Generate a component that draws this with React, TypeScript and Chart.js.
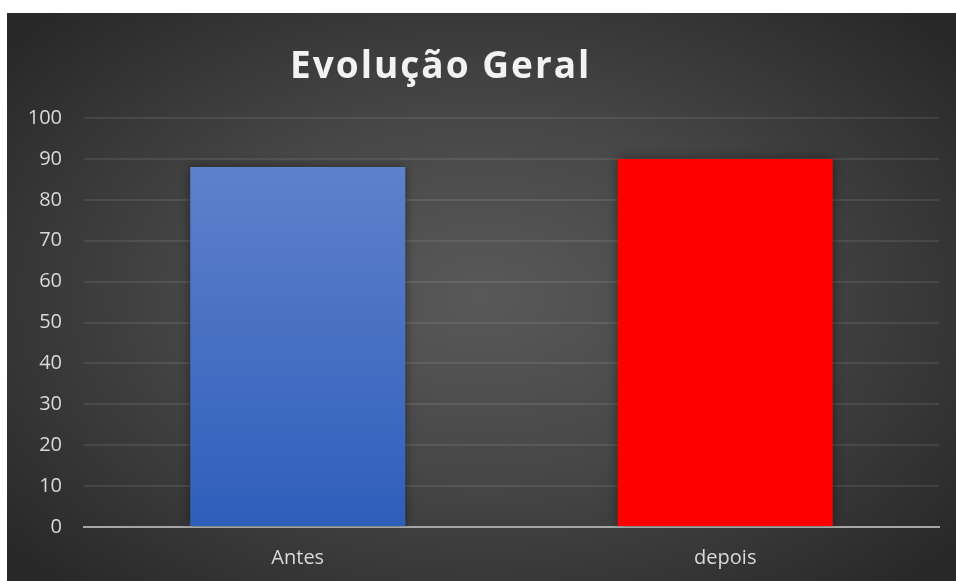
import React, { useEffect, useRef } from "react";
import { Chart, registerables } from "chart.js";

Chart.register(...registerables);

const titleText = "Evolução Geral";
const categories = ["Antes", "depois"];
const values = [88, 90];
const yTicks = [0, 10, 20, 30, 40, 50, 60, 70, 80, 90, 100];

const FONT = "'Open Sans', 'DejaVu Sans', sans-serif";

export default function App() {
  const ref = useRef<HTMLCanvasElement | null>(null);

  useEffect(() => {
    const canvas = ref.current;
    if (!canvas) return;

    const titlePlugin = {
      id: "customTitle",
      afterDraw(chart: any) {
        const ctx = chart.ctx;
        ctx.save();
        ctx.font = `bold 37px ${FONT}`;
        (ctx as any).letterSpacing = "2px";
        ctx.fillStyle = "#f2f2f2";
        ctx.textAlign = "center";
        ctx.textBaseline = "alphabetic";
        ctx.fillText(titleText, chart.width * 0.457, 65);
        ctx.restore();
      },
    };

    const shadowPlugin = {
      id: "barShadow",
      beforeDatasetsDraw(chart: any) {
        const ctx = chart.ctx;
        ctx.save();
        ctx.shadowColor = "rgba(0,0,0,0.45)";
        ctx.shadowBlur = 10;
        ctx.shadowOffsetX = 0;
        ctx.shadowOffsetY = 0;
      },
      afterDatasetsDraw(chart: any) {
        chart.ctx.restore();
      },
    };

    const chart = new Chart(canvas, {
      type: "bar",
      data: {
        labels: categories,
        datasets: [
          {
            data: values,
            backgroundColor: (c: any) => {
              if (c.dataIndex === 1) return "#ff0000";
              const area = c.chart.chartArea;
              if (!area) return "#4472c4";
              const g = c.chart.ctx.createLinearGradient(0, area.top, 0, area.bottom);
              g.addColorStop(0, "#6586cd");
              g.addColorStop(1, "#2e5ebb");
              return g;
            },
            borderWidth: 0,
            barPercentage: 0.503,
            categoryPercentage: 1,
          },
        ],
      },
      options: {
        animation: false,
        responsive: false,
        maintainAspectRatio: false,
        layout: { padding: { left: 0, right: 17, top: 105, bottom: 0 } },
        plugins: {
          legend: { display: false },
          title: { display: false },
          tooltip: { enabled: false },
        },
        scales: {
          x: {
            grid: { display: false, drawTicks: false },
            border: { display: true, color: "#a6a6a6", width: 2 },
            ticks: {
              color: "#d9d9d9",
              font: { family: FONT, size: 20 },
              padding: 19,
            },
            afterFit(scale: any) {
              scale.height = 54;
            },
          },
          y: {
            min: 0,
            max: 100,
            afterBuildTicks(scale: any) {
              scale.ticks = yTicks.map((v) => ({ value: v }));
            },
            grid: {
              color: (c: any) => (c.tick && c.tick.value === 0 ? "rgba(0,0,0,0)" : "rgba(255,255,255,0.085)"),
              lineWidth: 2,
              drawTicks: false,
            },
            border: { display: false },
            ticks: {
              color: "#d9d9d9",
              font: { family: FONT, size: 20 },
              padding: 22,
            },
            afterFit(scale: any) {
              scale.width = 77;
            },
          },
        },
      },
      plugins: [shadowPlugin, titlePlugin],
    });

    return () => chart.destroy();
  }, []);

  return (
    <div
      style={{
        position: "absolute",
        left: 7,
        top: 13,
        width: 949,
        height: 568,
        background:
          "radial-gradient(ellipse 65% 70% at 50% 50%, #595959 0%, #474747 45%, #282828 100%)",
      }}
    >
      <canvas ref={ref} width={949} height={568} style={{ display: "block" }} />
    </div>
  );
}
